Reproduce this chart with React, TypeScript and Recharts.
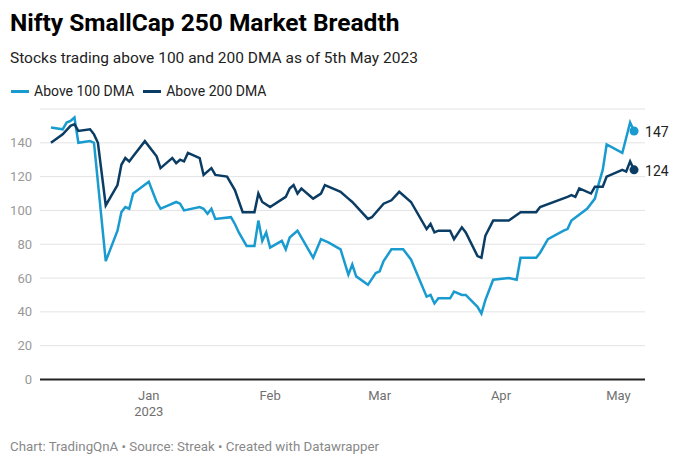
import React from "react";
import { LineChart, Line, XAxis, YAxis, CartesianGrid, ReferenceLine } from "recharts";

// days counted from 1 Jan 2023 (negative = Dec 2022)
const lightDays = [-25,-22,-21,-20,-19,-18,-15,-14,-11,-8,-7,-6,-5,-4,0,2,3,5,7,8,9,13,14,15,16,17,21,22,23,25,27,28,29,30,31,34,35,36,38,42,44,46,49,51,52,53,56,58,59,60,62,64,65,67,71,72,73,74,77,78,80,81,84,85,86,88,92,94,95,98,99,100,102,106,107,108,112,114,115,116,117,121,123,124];
const lightValues = [149,148,152,153,155,140,141,140,70,88,99,102,101,110,117,105,101,103,105,104,100,102,101,98,101,95,96,92,87,79,79,94,82,87,78,82,77,84,88,72,83,81,77,62,68,61,56,63,64,70,77,77,77,71,49,50,45,48,48,52,50,50,43,39,47,59,60,59,72,72,72,75,83,88,89,94,101,107,116,124,139,134,152,147];

const darkDays = [-25,-22,-20,-19,-18,-15,-14,-13,-11,-8,-7,-6,-5,-4,-1,2,3,5,6,7,8,9,10,13,14,16,17,20,22,24,27,28,29,31,35,36,37,38,39,42,44,45,48,49,51,52,56,57,60,62,64,67,71,72,73,74,77,78,80,81,84,85,86,88,92,95,99,100,107,108,109,110,113,114,116,117,121,122,123,124];
const darkValues = [140,145,150,151,147,148,145,140,103,115,127,131,129,132,141,132,125,129,131,128,130,129,134,131,121,125,121,120,112,99,99,110,105,102,108,113,115,110,113,107,110,115,112,111,107,105,95,96,104,106,111,105,89,92,87,88,88,83,90,87,73,72,85,94,94,99,99,102,108,109,108,113,110,114,114,120,124,123,129,124];

const tickDays = [0, 31, 59, 90, 120];
const tickMonths = ["Jan", "Feb", "Mar", "Apr", "May"];
const tickYears = ["2023", "", "", "", ""];
const yTicks = [0, 20, 40, 60, 80, 100, 120, 140];

const seriesNames = ["Above 100 DMA", "Above 200 DMA"];
const LIGHT = "#1a9bd0";
const DARK = "#0b3d64";

const lightData = lightDays.map((d, i) => ({ d, v: lightValues[i] }));
const darkData = darkDays.map((d, i) => ({ d, v: darkValues[i] }));

const FONT = "Roboto, 'Noto Sans', sans-serif";

const XTick = (props: any) => {
  const { x, y, payload } = props;
  const idx = tickDays.indexOf(payload.value);
  return (
    <g>
      <text x={x} y={y + 12} textAnchor="middle" fill="#6f6f6f" fontSize={13} fontFamily={FONT}>
        {tickMonths[idx]}
      </text>
      {tickYears[idx] ? (
        <text x={x} y={y + 28} textAnchor="middle" fill="#6f6f6f" fontSize={13} fontFamily={FONT}>
          {tickYears[idx]}
        </text>
      ) : null}
    </g>
  );
};

const makeEndDot = (len: number, color: string) => (props: any) => {
  const { cx, cy, index, payload } = props;
  if (index !== len - 1) return <g key={`d${index}`} />;
  return (
    <g key={`d${index}`}>
      <circle cx={cx} cy={cy} r={4.5} fill={color} />
      <text x={cx + 11} y={cy + 6} fill="#222" fontSize={14} fontFamily={FONT}>
        {payload.v}
      </text>
    </g>
  );
};

export default function App() {
  return (
    <div style={{ position: "absolute", left: 0, top: 0, width: 689, height: 467, background: "#fff", fontFamily: FONT }}>
      <div style={{ position: "absolute", left: 10, top: 8, fontSize: 24.5, fontWeight: 700, color: "#000", whiteSpace: "nowrap" }}>
        Nifty SmallCap 250 Market Breadth
      </div>
      <div style={{ position: "absolute", left: 10, top: 49, fontSize: 15.5, color: "#222", whiteSpace: "nowrap" }}>
        Stocks trading above 100 and 200 DMA as of 5th May 2023
      </div>
      <div style={{ position: "absolute", left: 11, top: 83, fontSize: 14, color: "#222", display: "flex", alignItems: "center", whiteSpace: "nowrap" }}>
        <span style={{ display: "inline-block", width: 18, height: 3, background: LIGHT, marginRight: 5 }} />
        <span style={{ marginRight: 9 }}>{seriesNames[0]}</span>
        <span style={{ display: "inline-block", width: 18, height: 3, background: DARK, marginRight: 5 }} />
        <span>{seriesNames[1]}</span>
      </div>
      <div style={{ position: "absolute", left: 0, top: 0 }}>
        <LineChart width={689} height={467} margin={{ top: 109, right: 44, bottom: 57.5, left: 0 }}>
          <CartesianGrid vertical={false} stroke="#e3e3e3" strokeWidth={1} />
          <XAxis
            dataKey="d"
            type="number"
            domain={[-27.8, 126.8]}
            ticks={tickDays}
            tick={<XTick />}
            axisLine={false}
            tickLine={false}
            height={30}
            interval={0}
          />
          <YAxis
            type="number"
            domain={[0, 160]}
            ticks={yTicks}
            width={40}
            axisLine={false}
            tickLine={false}
            tick={{ fill: "#999", fontSize: 13, fontFamily: FONT }}
            interval={0}
          />
          <ReferenceLine y={0} stroke="#222" strokeWidth={2} />
          <Line
            data={lightData}
            dataKey="v"
            type="linear"
            stroke={LIGHT}
            strokeWidth={2.5}
            dot={makeEndDot(lightData.length, LIGHT)}
            activeDot={false}
            isAnimationActive={false}
          />
          <Line
            data={darkData}
            dataKey="v"
            type="linear"
            stroke={DARK}
            strokeWidth={2.5}
            dot={makeEndDot(darkData.length, DARK)}
            activeDot={false}
            isAnimationActive={false}
          />
        </LineChart>
      </div>
      <div style={{ position: "absolute", left: 10, top: 439, fontSize: 13.3, color: "#888", whiteSpace: "nowrap" }}>
        Chart: TradingQnA • Source: Streak • Created with Datawrapper
      </div>
    </div>
  );
}
